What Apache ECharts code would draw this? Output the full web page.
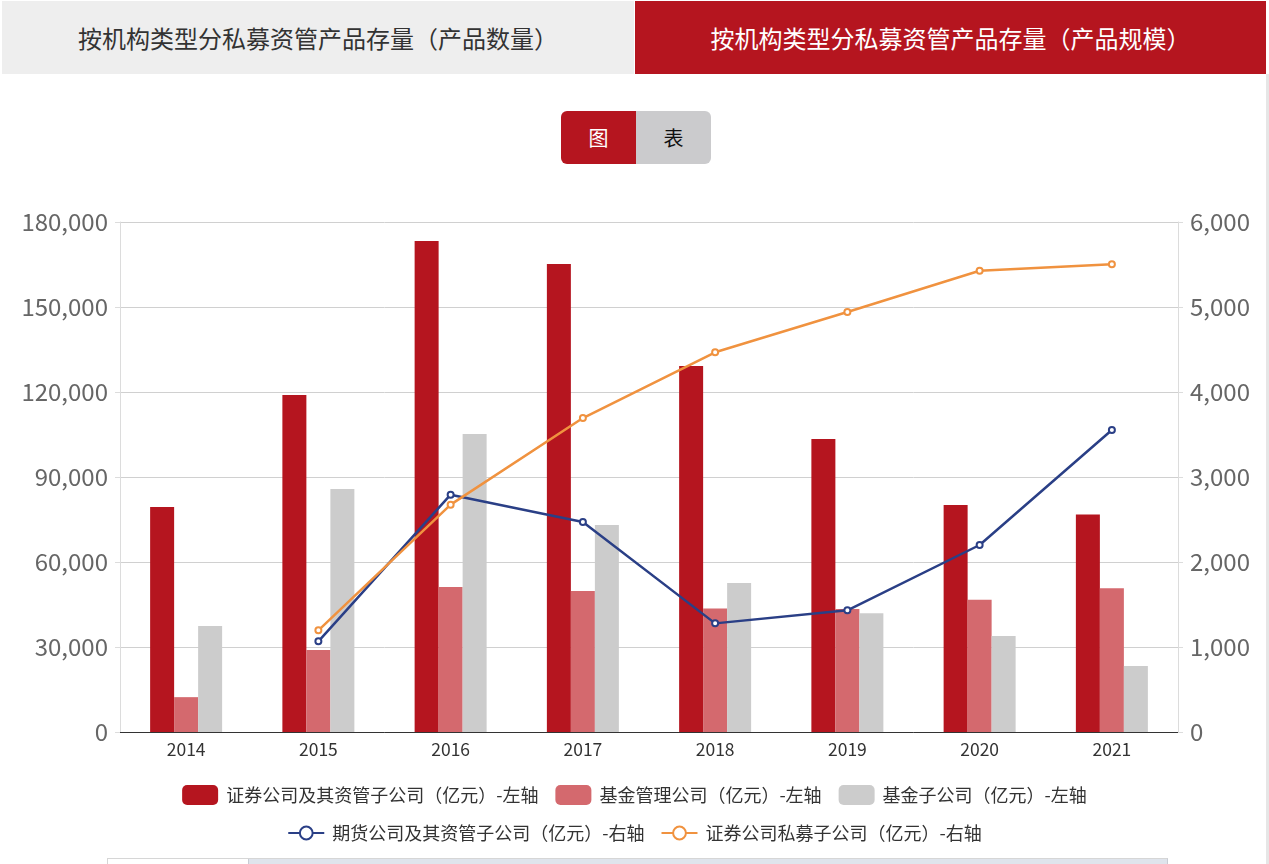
<!DOCTYPE html>
<html><head><meta charset="utf-8">
<script src="https://cdn.jsdelivr.net/npm/echarts@6/dist/echarts.min.js"></script>
<style>
html,body{margin:0;padding:0;background:#fff;width:1269px;height:864px;overflow:hidden;font-family:"Noto Sans CJK SC","Noto Sans",sans-serif;}
#chart{position:absolute;left:0;top:0;width:1269px;height:864px;}
.tab{position:absolute;top:1px;height:73px;line-height:73px;text-align:center;font-size:24px;}
#tab1{left:2px;width:632px;background:#eeeeee;color:#333;}
#tab2{left:635px;width:631px;background:#b5151f;color:#fff;}
#rb{position:absolute;left:1266px;top:74px;width:3px;height:790px;background:#e6e6e6;}
#tog{position:absolute;left:561px;top:111px;width:150px;height:53px;border-radius:6px;overflow:hidden;}
#tog div{position:absolute;top:0;width:75px;height:53px;line-height:53px;text-align:center;font-size:20px;}
#tA{left:0;background:#b5151f;color:#fff;}
#tB{left:75px;background:#cbcbcd;color:#111;}
#strip{position:absolute;left:107px;top:858px;width:1059px;height:6px;background:#dfe4ec;border-top:1px solid #d6d6d6;border-left:1px solid #d6d6d6;border-right:1px solid #c8ccd4;}
#strip div{position:absolute;left:0;top:0;width:140px;height:6px;background:#fff;border-right:1px solid #c8ccd4;}
</style></head>
<body>
<div id="chart"></div>
<div class="tab" id="tab1">按机构类型分私募资管产品存量（产品数量）</div>
<div class="tab" id="tab2">按机构类型分私募资管产品存量（产品规模）</div>
<div id="rb"></div>
<div id="tog"><div id="tA">图</div><div id="tB">表</div></div>
<div id="strip"><div></div></div>
<script>
const years = ['2014','2015','2016','2017','2018','2019','2020','2021'];
const securities = [79400, 118900, 173300, 165200, 129200, 103400, 80100, 76800];
const fundMgmt = [12300, 28900, 51200, 49800, 43600, 43400, 46700, 50700];
const fundSub = [37400, 85800, 105200, 73100, 52600, 41900, 33900, 23300];
const futures = [null, 1067, 2792, 2470, 1278, 1431, 2200, 3553];
const secPrivate = [null, 1196, 2675, 3694, 4467, 4941, 5427, 5502];
const leftTicks = [0, 30000, 60000, 90000, 120000, 150000, 180000];
const rightTicks = [0, 1000, 2000, 3000, 4000, 5000, 6000];
const names = ['证券公司及其资管子公司（亿元）-左轴','基金管理公司（亿元）-左轴','基金子公司（亿元）-左轴','期货公司及其资管子公司（亿元）-右轴','证券公司私募子公司（亿元）-右轴'];

const fmt = v => v.toLocaleString('en-US');
const chart = echarts.init(document.getElementById('chart'));
const legendText = {fontSize:18, color:'#333', fontFamily:'"Noto Sans CJK SC",sans-serif', padding:[0,0,0,3]};
chart.setOption({
  animation:false,
  textStyle:{fontFamily:'"Noto Sans CJK SC","Noto Sans",sans-serif'},
  grid:{left:120, right:91, top:222, bottom:132},
  legend:[
    {data:names.slice(0,3), top:780, left:'center', itemWidth:36, itemHeight:20, itemGap:17, icon:'roundRect', textStyle:legendText},
    {data:names.slice(3), top:819, left:'center', itemWidth:36, itemHeight:16, itemGap:16, textStyle:legendText}
  ],
  xAxis:{type:'category', data:years,
    axisLine:{lineStyle:{color:'#333', width:1}},
    axisTick:{alignWithLabel:true, length:6, lineStyle:{color:'#333'}},
    axisLabel:{fontSize:17.5, color:'#333', margin:9}},
  yAxis:[
    {type:'value', min:leftTicks[0], max:leftTicks[leftTicks.length-1], interval:30000,
     axisLine:{show:true, lineStyle:{color:'#dcdcdc'}},
     axisTick:{show:true, length:5, lineStyle:{color:'#dcdcdc'}},
     splitLine:{lineStyle:{color:'#d0d0d0'}},
     axisLabel:{fontSize:24, color:'#666', margin:12, formatter:fmt}},
    {type:'value', min:rightTicks[0], max:rightTicks[rightTicks.length-1], interval:1000,
     axisLine:{show:true, lineStyle:{color:'#dcdcdc'}},
     axisTick:{show:true, length:5, lineStyle:{color:'#dcdcdc'}},
     splitLine:{show:false},
     axisLabel:{fontSize:24, color:'#666', margin:12, formatter:fmt}}
  ],
  series:[
    {name:names[0], type:'bar', data:securities, barWidth:24, barGap:'0%', itemStyle:{color:'#b5151f'}},
    {name:names[1], type:'bar', data:fundMgmt, barWidth:24, barGap:'0%', itemStyle:{color:'#d4696e'}},
    {name:names[2], type:'bar', data:fundSub, barWidth:24, barGap:'0%', itemStyle:{color:'#cccccc'}},
    {name:names[3], type:'line', yAxisIndex:1, data:futures, symbol:'emptyCircle', symbolSize:6,
     lineStyle:{color:'#2a3f86', width:2.5}, itemStyle:{color:'#2a3f86', borderWidth:1.5}},
    {name:names[4], type:'line', yAxisIndex:1, data:secPrivate, symbol:'emptyCircle', symbolSize:6,
     lineStyle:{color:'#f0923f', width:2.5}, itemStyle:{color:'#f0923f', borderWidth:1.5}}
  ]
});
</script>
</body></html>
